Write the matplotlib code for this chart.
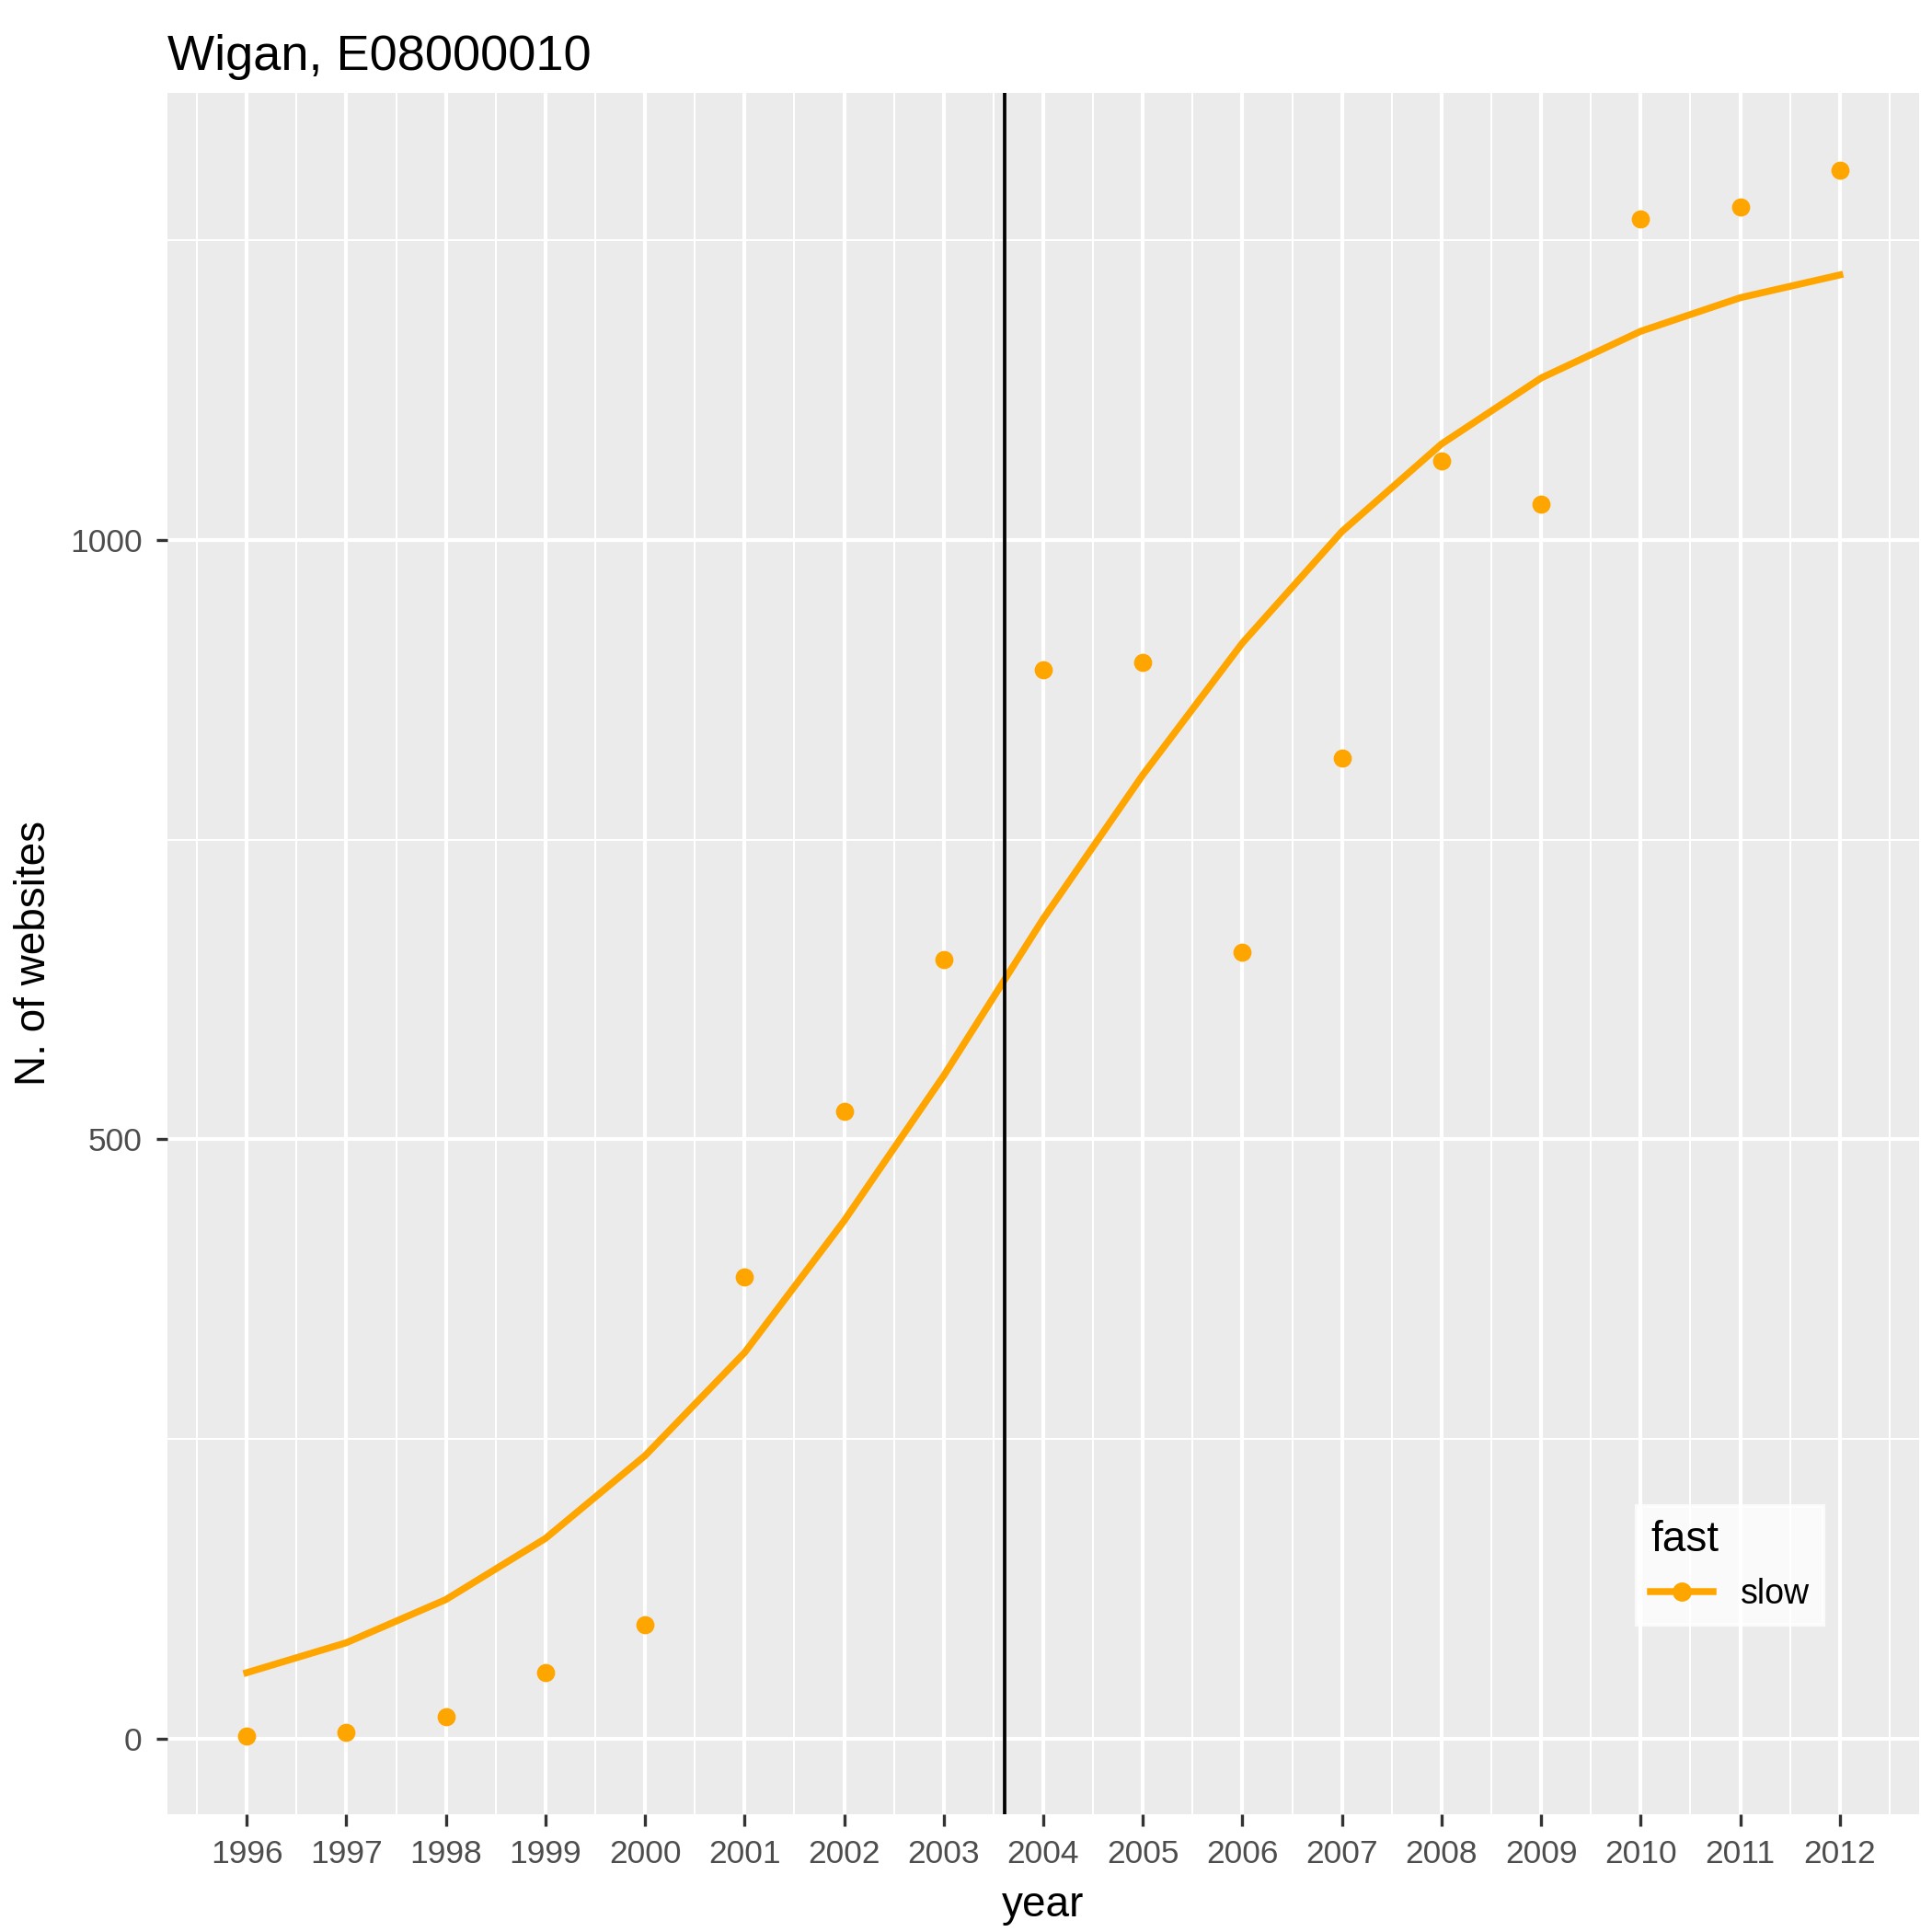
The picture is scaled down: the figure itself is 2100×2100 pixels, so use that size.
import matplotlib.pyplot as plt
from matplotlib.lines import Line2D
import numpy as np

years = list(range(1996, 2013))
websites = [2, 5, 18, 55, 95, 385, 523, 650, 892, 898, 656, 818, 1066, 1030, 1268, 1278, 1308]
trend = [55, 80, 116, 167, 236, 322, 432, 553, 684, 804, 914, 1007, 1080, 1135, 1174, 1202, 1221]
cutoff = 2003.61

plt.rcParams['font.family'] = ['Liberation Sans', 'DejaVu Sans']
fig = plt.figure(figsize=(7, 7), dpi=300)
ax = fig.add_axes([0.0865, 0.061, 0.907, 0.891])
ax.set_facecolor('#EBEBEB')
for s in ax.spines.values():
    s.set_visible(False)

ax.set_xlim(1995.2, 2012.8)
ax.set_ylim(-63, 1373)
ax.set_xticks(years)
ax.set_xticks(np.arange(1995.5, 2013, 1), minor=True)
ax.set_yticks([0, 500, 1000])
ax.set_yticks([250, 750, 1250], minor=True)
ax.grid(which='major', color='white', lw=1.0)
ax.grid(which='minor', color='white', lw=0.5)
ax.set_axisbelow(True)
ax.tick_params(which='major', length=3, color='#333333', labelsize=8.5, labelcolor='#4D4D4D')
ax.tick_params(which='minor', length=0)

ax.plot(years, trend, color='orange', lw=1.8, zorder=3)
ax.scatter(years, websites, color='orange', s=14, zorder=4)
ax.axvline(cutoff, color='black', lw=0.9, zorder=5)

ax.set_xlabel('year', fontsize=11)
ax.set_ylabel('N. of websites', fontsize=11)
ax.set_title('Wigan, E08000010', loc='left', fontsize=13)

h = Line2D([], [], color='orange', lw=1.8, marker='o', markersize=4)
leg = ax.legend([h], ['slow'], title='fast', loc='lower right', bbox_to_anchor=(0.955, 0.1),
                frameon=True, fancybox=False, edgecolor='white', facecolor='white',
                fontsize=9, title_fontsize=11, handlelength=1.8)
leg._legend_box.align = 'left'

fig.savefig('out.png', dpi=300)
